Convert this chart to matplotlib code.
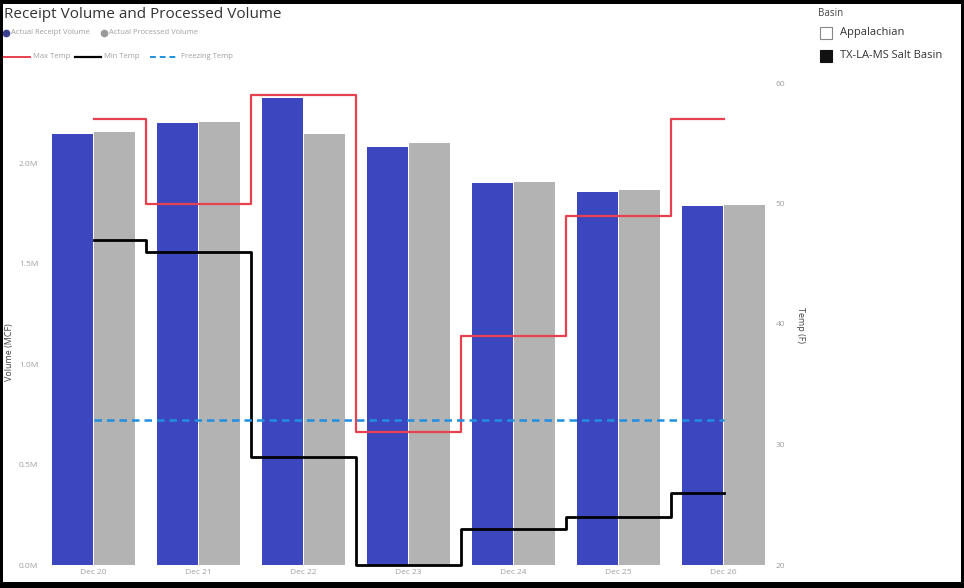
import matplotlib
matplotlib.use("Agg")
import matplotlib.pyplot as plt
import numpy as np
from matplotlib.lines import Line2D
from matplotlib.patches import Rectangle
from matplotlib.ticker import FuncFormatter

plt.rcParams['font.family'] = ['Open Sans', 'DejaVu Sans']

days = ["Dec 20", "Dec 21", "Dec 22", "Dec 23", "Dec 24", "Dec 25", "Dec 26"]
receipt_mcf = [2.145e6, 2.20e6, 2.325e6, 2.08e6, 1.90e6, 1.855e6, 1.79e6]
processed_mcf = [2.155e6, 2.205e6, 2.145e6, 2.10e6, 1.905e6, 1.865e6, 1.795e6]
max_temp_f = [57, 50, 59, 31, 39, 49, 57]
min_temp_f = [47, 46, 29, 20, 23, 24, 26]
freezing_f = 32
volume_ticks = [0, 0.5e6, 1.0e6, 1.5e6, 2.0e6]
temp_ticks = [20, 30, 40, 50, 60]
basins = ["Appalachian", "TX-LA-MS Salt Basin"]

W, H = 964, 588
fig = plt.figure(figsize=(W / 100, H / 100), dpi=100)
fig.patch.set_facecolor("white")

def fx(px):
    return px / W

def fy(py):
    return 1 - py / H

# plot area in pixel units
left, right, top, bottom = 41, 770, 83, 565
ax = fig.add_axes([fx(left), fy(bottom), fx(right - left), (bottom - top) / H])
ax2 = ax.twinx()

BLUE = "#3c46be"
GRAY = "#b3b3b3"
RED = "#e8404f"
FREEZE = "#1f8fe0"
TICK_C = "#a0a0a0"
LABEL_C = "#444444"

x = np.arange(len(days))
bw = 0.39
ax.bar(x - bw / 2 - 0.005, receipt_mcf, width=bw, color=BLUE, zorder=2)
ax.bar(x + bw / 2 + 0.005, processed_mcf, width=bw, color=GRAY, zorder=2)
ax.set_xlim(-0.5, 6.44)
ax.set_ylim(0, 2.4e6)
ax.set_yticks(volume_ticks)
ax.yaxis.set_major_formatter(FuncFormatter(lambda v, p: f"{v / 1e6:.1f}M"))
ax.set_xticks(x)
ax.set_xticklabels(days)

# temperature step lines (value held around each day's center)
xs = np.concatenate([[x[0]], (x[:-1] + x[1:]) / 2, [x[-1]]])
def steps(vals):
    sx, sy = [], []
    for i, v in enumerate(vals):
        sx += [xs[i], xs[i + 1]]
        sy += [v, v]
    return sx, sy

ax2.plot(*steps(max_temp_f), color=RED, lw=1.6, zorder=3, clip_on=False)
ax2.plot(*steps(min_temp_f), color="black", lw=2.0, zorder=3, clip_on=False)
ax2.plot([x[0], x[-1]], [freezing_f, freezing_f], color=FREEZE, lw=1.8,
         dashes=(3, 2), zorder=3)
ax2.set_ylim(20, 60)
ax2.set_yticks(temp_ticks)
ax2.set_zorder(ax.get_zorder() + 1)

for a in (ax, ax2):
    for s in a.spines.values():
        s.set_visible(False)
    a.tick_params(length=0, labelsize=6, colors=TICK_C)
ax.tick_params(axis="y", pad=2)
ax.tick_params(axis="x", pad=3)
ax2.tick_params(axis="y", pad=4)

fig.text(fx(10), fy(352), "Volume (MCF)", fontsize=6.5, color=LABEL_C,
         rotation=90, ha="center", va="center")
fig.text(fx(800), fy(325), "Temp (F)", fontsize=6.5, color=LABEL_C,
         rotation=270, ha="center", va="center")

# title and series legend
fig.text(fx(4), fy(15), "Receipt Volume and Processed Volume", fontsize=11,
         color="#333333", va="center", ha="left")
row1 = fy(33)
fig.add_artist(Line2D([fx(6)], [row1], marker="o", markersize=4.5,
                      color="#3a3f8f", transform=fig.transFigure))
fig.text(fx(11), row1, "Actual Receipt Volume", fontsize=5.5, color=TICK_C,
         va="center")
fig.add_artist(Line2D([fx(104)], [row1], marker="o", markersize=4.5,
                      color="#9a9a9a", transform=fig.transFigure))
fig.text(fx(109), row1, "Actual Processed Volume", fontsize=5.5, color=TICK_C,
         va="center")

row2 = fy(57)
fig.add_artist(Line2D([fx(4), fx(30)], [row2, row2], color=RED, lw=1.4,
                      transform=fig.transFigure))
fig.text(fx(33), row2, "Max Temp", fontsize=5.5, color=TICK_C, va="center")
fig.add_artist(Line2D([fx(75), fx(101)], [row2, row2], color="black", lw=1.6,
                      transform=fig.transFigure))
fig.text(fx(104), row2, "Min Temp", fontsize=5.5, color=TICK_C, va="center")
fig.add_artist(Line2D([fx(150), fx(178)], [row2, row2], color=FREEZE, lw=1.4,
                      dashes=(3, 2), transform=fig.transFigure))
fig.text(fx(181), row2, "Freezing Temp", fontsize=5.5, color=TICK_C,
         va="center")

# basin slicer
fig.text(fx(818), fy(13), "Basin", fontsize=7, color=LABEL_C, va="center")
for i, name in enumerate(basins):
    yy = 33 + i * 23
    filled = i == 1
    fig.add_artist(Rectangle((fx(820), fy(yy + 6)), fx(12), 12 / H,
                             transform=fig.transFigure,
                             facecolor="#111111" if filled else "white",
                             edgecolor="#111111" if filled else "#888888",
                             lw=0.8))
    fig.text(fx(840), fy(yy), name, fontsize=8, color="#333333", va="center")

# outer frame
for (x0, y0, w, h) in [(0, 0, 3, H), (W - 3, 0, 3, H), (0, 0, W, 4),
                       (0, H - 6, W, 6)]:
    fig.add_artist(Rectangle((fx(x0), fy(y0 + h)), fx(w), h / H,
                             transform=fig.transFigure, facecolor="black",
                             edgecolor="none"))

fig.savefig("out.png", dpi=100, facecolor="white")
